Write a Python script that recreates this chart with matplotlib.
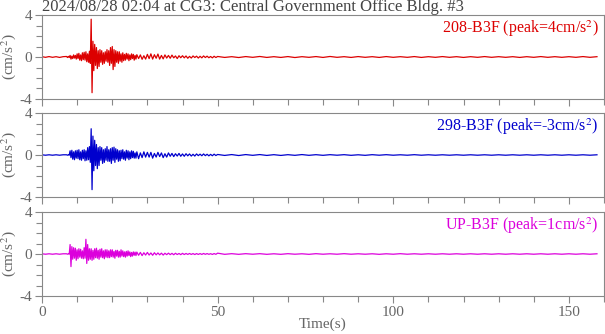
import numpy as np
import matplotlib
matplotlib.use('Agg')
import matplotlib.pyplot as plt
from matplotlib.ticker import MultipleLocator

plt.rcParams['font.family'] = ['Liberation Serif', 'DejaVu Serif']
plt.rcParams['mathtext.fontset'] = 'stix'

title = '2024/08/28 02:04 at CG3: Central Government Office Bldg. #3'
channels = ['208-B3F', '298-B3F', 'UP-B3F']
peaks = ['4', '-3', '1']
colors = ['#dc0000', '#0000cd', '#dc00dc']

# record is read as four pieces, each with its own sample step (s)
# pre-event 0-7 s at 1 s, 7-27 s at 0.25 s, 27-50 s at 0.5 s, 50-160 s at 2 s
pre_208 = [0.03, -0.03, 0.04, -0.03, 0.03, -0.04, 0.03]
main_208 = [0.05, -0.05, 0.06, -0.05,
            0.15, -0.2, 0.08, -0.15, 0.2, -0.1, 0.15, -0.2,
            0.3, -0.15, 0.35, -0.3, 0.2, -0.35, 0.4, -0.25,
            0.45, -0.3, 0.5, -0.45, 0.3, -0.5, 0.55, -0.6,
            3.6, -3.4, 1.5, -1.3,
            1.2, -0.8, 0.9, -1.1,
            0.6, -0.9, 0.7, -0.5,
            0.6, -0.7, 0.4, -0.6,
            0.5, -0.4, 0.7, -0.5,
            0.6, -0.8, 0.9, -0.6,
            1.0, -1.2, 0.7, -0.9,
            0.6, -0.5, 0.5, -0.6,
            0.5, -0.4, 0.3, -0.5,
            0.4, -0.35, 0.25, -0.3,
            0.35, -0.2, 0.3, -0.35,
            0.2, -0.25, 0.3, -0.15,
            0.25, -0.3, 0.15, -0.2]
coda_208 = [0.22, -0.15, 0.2, -0.22, 0.12, -0.2,
            0.25, -0.15, 0.3, -0.2, 0.22, -0.12,
            0.28, -0.2, 0.15, -0.18, 0.2, -0.1,
            0.15, -0.12, 0.18, -0.08, 0.1, -0.15, 0.12, -0.07,
            0.12, -0.08, 0.1, -0.12, 0.06, -0.1, 0.1, -0.05, 0.08, -0.1,
            0.07, -0.08, 0.1, -0.05, 0.08, -0.07, 0.05, -0.08, 0.07, -0.05]
tail_208 = [0.05, -0.04, 0.03, -0.05, 0.04, -0.03, 0.05, -0.04, 0.03, -0.04,
            0.04, -0.05, 0.03, -0.03, 0.04, -0.04, 0.05, -0.03, 0.03, -0.04,
            0.04, -0.03, 0.03, -0.04, 0.04, -0.03, 0.03, -0.03, 0.04, -0.04,
            0.03, -0.03, 0.04, -0.03, 0.03, -0.04, 0.03, -0.03, 0.04, -0.03,
            0.03, -0.03, 0.03, -0.04, 0.03, -0.03, 0.04, -0.03, 0.03, -0.03,
            0.03, -0.03, 0.04, -0.03, 0.03]

pre_298 = [0.02, -0.02, 0.02, -0.02, 0.02, -0.02, 0.02]
main_298 = [0.02, -0.02, 0.02, -0.02,
            0.4, -0.25, 0.45, -0.4, 0.3, -0.45, 0.4, -0.3,
            0.45, -0.35, 0.5, -0.45, 0.3, -0.5, 0.45, -0.35,
            0.5, -0.55, 0.4, -0.5, 0.7, -0.45, 0.8, -0.7,
            2.5, -3.3, 1.8, -1.5,
            1.4, -1.0, 1.0, -1.3,
            0.7, -1.0, 0.8, -0.5,
            0.7, -0.8, 0.5, -0.7,
            0.6, -0.5, 0.8, -0.6,
            0.5, -0.6, 0.6, -0.8,
            0.7, -0.5, 0.75, -0.7,
            0.6, -0.4, 0.5, -0.6,
            0.4, -0.55, 0.45, -0.35,
            0.5, -0.4, 0.3, -0.5,
            0.45, -0.3, 0.4, -0.45,
            0.3, -0.35, 0.4, -0.25,
            0.35, -0.3, 0.2, -0.3]
coda_298 = [0.3, -0.35, 0.2, -0.25, 0.3, -0.2,
            0.25, -0.2, 0.25, -0.3, 0.15, -0.2,
            0.25, -0.15, 0.2, -0.25, 0.12, -0.2,
            0.2, -0.12, 0.15, -0.15, 0.12, -0.1, 0.15, -0.12,
            0.1, -0.12, 0.12, -0.08, 0.1, -0.1, 0.07, -0.1, 0.1, -0.06,
            0.08, -0.07, 0.1, -0.06, 0.07, -0.08, 0.06, -0.07, 0.08, -0.05]
tail_298 = [0.05, -0.04, 0.04, -0.05, 0.04, -0.03, 0.04, -0.04, 0.03, -0.04,
            0.03, -0.03, 0.04, -0.03, 0.03, -0.03, 0.03, -0.02, 0.03, -0.03,
            0.02, -0.03, 0.03, -0.02, 0.03, -0.02, 0.02, -0.02, 0.03, -0.02,
            0.02, -0.02, 0.02, -0.02, 0.02, -0.02, 0.02, -0.02, 0.02, -0.02,
            0.02, -0.02, 0.02, -0.02, 0.02, -0.02, 0.02, -0.02, 0.02, -0.02,
            0.02, -0.02, 0.02, -0.02, 0.02]

pre_up = [0.02, -0.02, 0.02, -0.02, 0.02, -0.02, 0.02]
main_up = [0.02, -0.02, 0.02, -0.02,
           0.9, -1.2, 0.7, -0.5, 0.6, -0.4, 0.55, -0.6,
           0.4, -0.45, 0.5, -0.3, 0.45, -0.4, 0.3, -0.45,
           0.6, -0.4, 1.4, -0.9, 0.9, -0.6, 0.5, -0.5,
           0.5, -0.6, 0.35, -0.5,
           0.5, -0.35, 0.55, -0.4,
           0.35, -0.5, 0.45, -0.3,
           0.5, -0.35, 0.3, -0.45,
           0.4, -0.3, 0.4, -0.35,
           0.3, -0.35, 0.4, -0.25,
           0.4, -0.3, 0.25, -0.4,
           0.35, -0.2, 0.35, -0.3,
           0.25, -0.3, 0.4, -0.2,
           0.3, -0.25, 0.2, -0.3,
           0.25, -0.2, 0.3, -0.15,
           0.2, -0.25, 0.15, -0.2,
           0.2, -0.12, 0.18, -0.15]
coda_up = [0.18, -0.12, 0.15, -0.15, 0.12, -0.1,
           0.15, -0.1, 0.1, -0.12, 0.12, -0.08,
           0.1, -0.08, 0.08, -0.1, 0.07, -0.06,
           0.08, -0.06, 0.06, -0.07, 0.07, -0.05, 0.05, -0.06,
           0.06, -0.05, 0.05, -0.04, 0.05, -0.04, 0.04, -0.05, 0.04, -0.04,
           0.04, -0.04, 0.05, -0.03, 0.04, -0.03, 0.03, -0.04, 0.04, -0.03]
tail_up = [0.08, -0.03, 0.03, -0.03, 0.03, -0.02, 0.03, -0.03, 0.02, -0.03,
           0.03, -0.02, 0.02, -0.03, 0.03, -0.02, 0.02, -0.02, 0.03, -0.02,
           0.02, -0.02, 0.02, -0.03, 0.02, -0.02, 0.03, -0.02, 0.02, -0.02,
           0.02, -0.02, 0.02, -0.02, 0.02, -0.02, 0.02, -0.02, 0.02, -0.02,
           0.02, -0.02, 0.02, -0.02, 0.02, -0.02, 0.02, -0.02, 0.02, -0.02,
           0.02, -0.02, 0.02, -0.02, 0.02]

pieces = [(pre_208, main_208, coda_208, tail_208),
          (pre_298, main_298, coda_298, tail_298),
          (pre_up, main_up, coda_up, tail_up)]


def build(pre, main, coda, tail):
    t = np.concatenate([0 + 1.0 * np.arange(len(pre)),
                        7 + 0.25 * np.arange(len(main)),
                        27 + 0.5 * np.arange(len(coda)),
                        50 + 2.0 * np.arange(len(tail))])
    a = np.concatenate([pre, main, coda, tail])
    return t, a


fig = plt.figure(figsize=(6.05, 3.34), dpi=100)
W, H = 605, 334
tops = [15, 113, 212]
gray = '#888888'
for i in range(3):
    top = tops[i]
    ax = fig.add_axes([42 / W, 1 - (top + 84) / H, 562 / W, 84 / H])
    t, a = build(*pieces[i])
    ax.plot(t, a, color=colors[i], lw=0.9)
    ax.set_xlim(0, 160)
    ax.set_ylim(-4, 4)
    ax.set_yticks([-4, 0, 4])
    ax.set_yticklabels(['-4', '0', '4'])
    ax.yaxis.set_minor_locator(MultipleLocator(1))
    ax.xaxis.set_major_locator(MultipleLocator(50))
    ax.xaxis.set_minor_locator(MultipleLocator(10))
    ax.tick_params(which='both', direction='out', color=gray, labelcolor='#666666',
                   labelsize=11, width=0.8, pad=2)
    ax.tick_params(which='major', length=5)
    ax.tick_params(which='minor', length=4)
    for s in ax.spines.values():
        s.set_color(gray)
        s.set_linewidth(0.8)
    if i < 2:
        ax.tick_params(axis='x', labelbottom=False)
    ax.set_ylabel('(cm/s$^2$)', color='#666666', fontsize=11, labelpad=1)
    ax.text(0.99, 0.96, f'{channels[i]} (peak={peaks[i]}cm/s$^2$)', transform=ax.transAxes,
            ha='right', va='top', color=colors[i], fontsize=11.5)
    if i == 0:
        ax.set_title(title, loc='left', fontsize=12, color='#444444', pad=0)
    if i == 2:
        ax.set_xlabel('Time(s)', color='#666666', fontsize=11, labelpad=-1)

fig.savefig('out.png', dpi=100)
